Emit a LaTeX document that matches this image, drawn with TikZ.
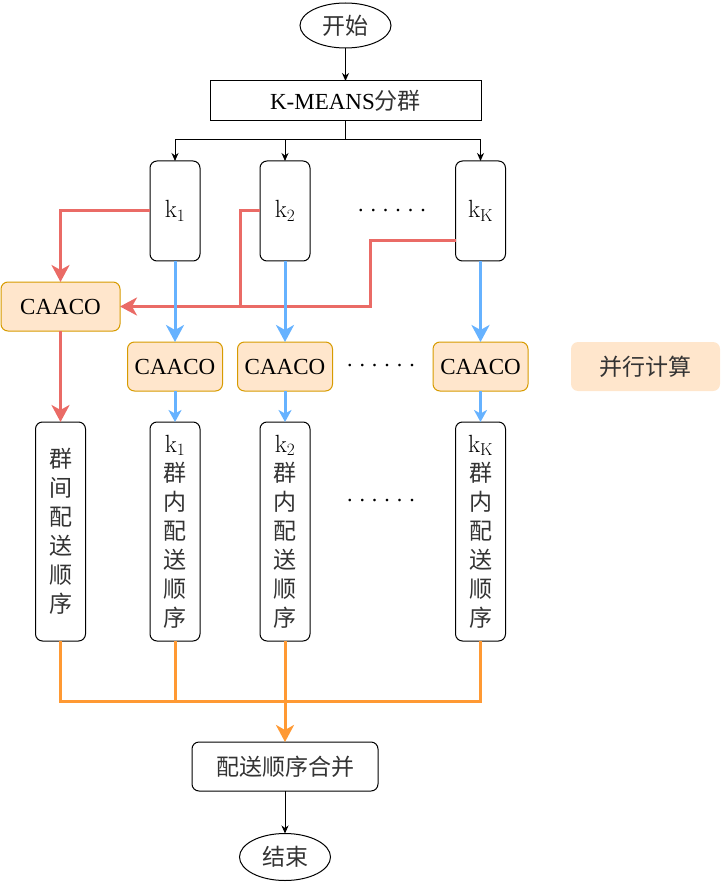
\documentclass[tikz,border=0pt]{standalone}
\usepackage[no-math]{fontspec}
\setmainfont{Liberation Serif}
\newfontfamily\cjk{Noto Sans CJK SC}
\usetikzlibrary{shapes.geometric,arrows.meta}
\definecolor{myred}{HTML}{EA6B66}
\definecolor{myblue}{HTML}{66B2FF}
\definecolor{myorange}{HTML}{FF9933}
\definecolor{cafill}{HTML}{FFE6CC}
\definecolor{cadraw}{HTML}{D79B00}
\definecolor{txtgray}{HTML}{333333}
\newcommand{\sixdots}{\makebox[12.5pt]{.}\makebox[12.5pt]{.}\makebox[12.5pt]{.}\makebox[12.5pt]{.}\makebox[12.5pt]{.}\makebox[12.5pt]{.}}
\newcommand{\zh}[1]{{\cjk\color{txtgray}#1}}
\begin{document}
\begin{tikzpicture}[x=1pt,y=-1pt,
  every node/.style={inner sep=0pt, outer sep=0pt, font=\fontsize{23}{29}\selectfont},
  term/.style={ellipse, draw, line width=1pt, minimum width=91pt, minimum height=45pt},
  plainbox/.style={draw, line width=1pt, minimum width=271pt, minimum height=40pt},
  kbox/.style={draw, line width=1pt, rounded corners=7pt, minimum width=50pt, minimum height=100pt},
  colbox/.style={draw, line width=1pt, rounded corners=7pt, minimum width=50pt, minimum height=219pt, align=center},
  cabox/.style={draw=cadraw, fill=cafill, line width=1pt, rounded corners=7pt, minimum width=95pt, minimum height=49pt},
  parbox/.style={fill=cafill, rounded corners=7pt, minimum width=149pt, minimum height=49pt},
  mergebox/.style={draw, line width=1pt, rounded corners=7pt, minimum width=186pt, minimum height=49pt},
  dotrow/.style={font=\fontsize{22}{22}\selectfont},
  blk/.style={draw, line width=1pt, -{Stealth[length=8pt,width=7pt,inset=2.5pt]}},
  thickhead/.style={-{Stealth[length=17pt,width=18pt,inset=5pt]}},
  redl/.style={draw=myred, line width=3pt},
  bluel/.style={draw=myblue, line width=3pt},
  orangel/.style={draw=myorange, line width=3pt},
]
\useasboundingbox (0,0) rectangle (721,882);

% nodes
\node[term] (start) at (345.5,25.5) {\zh{开始}};
\node[plainbox] (km) at (345.5,101) {K-MEANS\zh{分群}};

\node[kbox] (k1) at (175,211) {$\mathrm{k}_1$};
\node[kbox] (k2) at (285,211) {$\mathrm{k}_2$};
\node[kbox] (kK) at (480.5,211) {$\mathrm{k}_\mathrm{K}$};
\node[dotrow] (d1) at (392,211) {\sixdots};

\node[cabox, minimum width=119pt] (ca0) at (60.5,306.5) {CAACO};
\node[cabox] (ca1) at (175,366.5) {CAACO};
\node[cabox] (ca2) at (285,366.5) {CAACO};
\node[cabox] (caK) at (480.5,366.5) {CAACO};
\node[dotrow] (d2) at (381,366) {\sixdots};
\node[parbox] (par) at (645.5,366.5) {\zh{并行计算}};

\node[colbox] (r0) at (60.5,531.5) {\zh{群}\\\zh{间}\\\zh{配}\\\zh{送}\\\zh{顺}\\\zh{序}};
\node[colbox] (r1) at (175,531.5) {$\mathrm{k}_1$\\\zh{群}\\\zh{内}\\\zh{配}\\\zh{送}\\\zh{顺}\\\zh{序}};
\node[colbox] (r2) at (285,531.5) {$\mathrm{k}_2$\\\zh{群}\\\zh{内}\\\zh{配}\\\zh{送}\\\zh{顺}\\\zh{序}};
\node[colbox] (rK) at (480.5,531.5) {$\mathrm{k}_\mathrm{K}$\\\zh{群}\\\zh{内}\\\zh{配}\\\zh{送}\\\zh{顺}\\\zh{序}};
\node[dotrow] (d3) at (381,500.5) {\sixdots};

\node[mergebox] (merge) at (285,766.5) {\zh{配送顺序合并}};
\node[term, minimum height=47pt] (end) at (285,857) {\zh{结束}};

% coordinates for junctions
\coordinate (bus) at (345.5,140);
\coordinate (rj2) at (240,306.5);
\coordinate (rjK) at (370,306.5);
\coordinate (ob) at (285,701.5);

% black connectors
\draw[blk] (start) -- (km);
\draw[line width=1pt] (km.south) -- (bus);
\draw[blk] (bus) -| (k1.north);
\draw[blk] (bus) -| (kK.north);
\draw[blk] (k2.north |- bus) -- (k2.north);

% red connectors
\draw[redl, thickhead] (k1.west) -| (ca0.north);
\draw[redl] (k2.west) -| (rj2);
\draw[redl, thickhead] ([yshift=-30pt]kK.west) -| (rjK) -- (ca0.east);
\draw[redl, thickhead] (ca0.south) -- (r0.north);

% blue connectors
\draw[bluel, thickhead] (k1.south) -- (ca1.north);
\draw[bluel, thickhead] (k2.south) -- (ca2.north);
\draw[bluel, thickhead] (kK.south) -- (caK.north);
\draw[bluel, -{Stealth[length=12pt,width=13pt,inset=3.5pt]}] (ca1.south) -- (r1.north);
\draw[bluel, -{Stealth[length=12pt,width=13pt,inset=3.5pt]}] (ca2.south) -- (r2.north);
\draw[bluel, -{Stealth[length=12pt,width=13pt,inset=3.5pt]}] (caK.south) -- (rK.north);

% orange connectors
\draw[orangel] (r0.south) |- (ob) -| (rK.south);
\draw[orangel] (r1.south) -- (r1.south |- ob);
\draw[orangel, thickhead] (r2.south) -- (merge.north);

\draw[blk] (merge) -- (end);
\end{tikzpicture}
\end{document}
